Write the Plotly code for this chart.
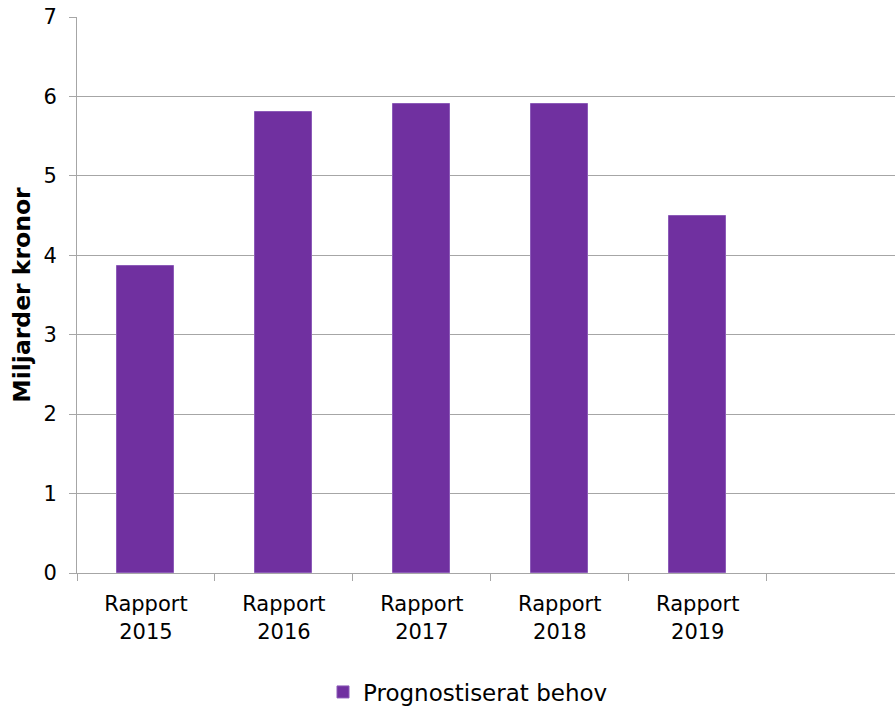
import plotly.graph_objects as go

categories = ["Rapport<br>2015", "Rapport<br>2016", "Rapport<br>2017", "Rapport<br>2018", "Rapport<br>2019"]
values = [3.87, 5.8, 5.9, 5.9, 4.5]
series_name = "Prognostiserat behov"
y_ticks = [0, 1, 2, 3, 4, 5, 6, 7]

positions = list(range(len(categories)))
boundaries = [p - 0.5 for p in range(len(categories) + 2)]

fig = go.Figure()
fig.add_trace(go.Bar(
    x=positions, y=values, name=series_name,
    width=0.413,
    marker=dict(color="#7030A0", line=dict(color="#8c5bb8", width=1)),
    showlegend=True,
))

font = "Verdana, DejaVu Sans, sans-serif"
fig.update_layout(
    width=895, height=706,
    margin=dict(l=77, r=0, t=17, b=133, autoexpand=False),
    plot_bgcolor="white", paper_bgcolor="white",
    font=dict(family=font, size=21, color="#000000"),
    bargap=0,
    xaxis=dict(
        range=[-0.5, 5.43], automargin=False,
        tickmode="array", tickvals=positions, ticktext=categories,
        ticks="", showgrid=False, zeroline=False,
        showline=True, linecolor="#a6a6a6", linewidth=1,
        tickfont=dict(size=21), ticklabelstandoff=12, ticklabeloverflow="allow",
        minor=dict(tickmode="array", tickvals=boundaries, ticks="outside",
                   ticklen=7, tickcolor="#a6a6a6", tickwidth=1, showgrid=False),
    ),
    yaxis=dict(
        range=[0, 7], automargin=False, tickmode="array", tickvals=y_ticks,
        showgrid=True, gridcolor="#a6a6a6", gridwidth=1,
        zeroline=False, showline=True, linecolor="#a6a6a6", linewidth=1,
        ticks="outside", ticklen=7, tickcolor="#a6a6a6",
        tickfont=dict(size=21), ticklabelstandoff=8, ticklabeloverflow="allow",
        title=dict(text="<b>Miljarder kronor</b>", font=dict(size=23.5), standoff=6),
    ),
    legend=dict(orientation="h", x=0.478, xanchor="center", y=-0.214, yanchor="middle",
                font=dict(size=23), itemwidth=30),
)

fig.write_html(
    "out.html",
    config={"displayModeBar": False},
    post_script="document.body.style.margin='0';document.body.style.overflow='hidden';",
)
